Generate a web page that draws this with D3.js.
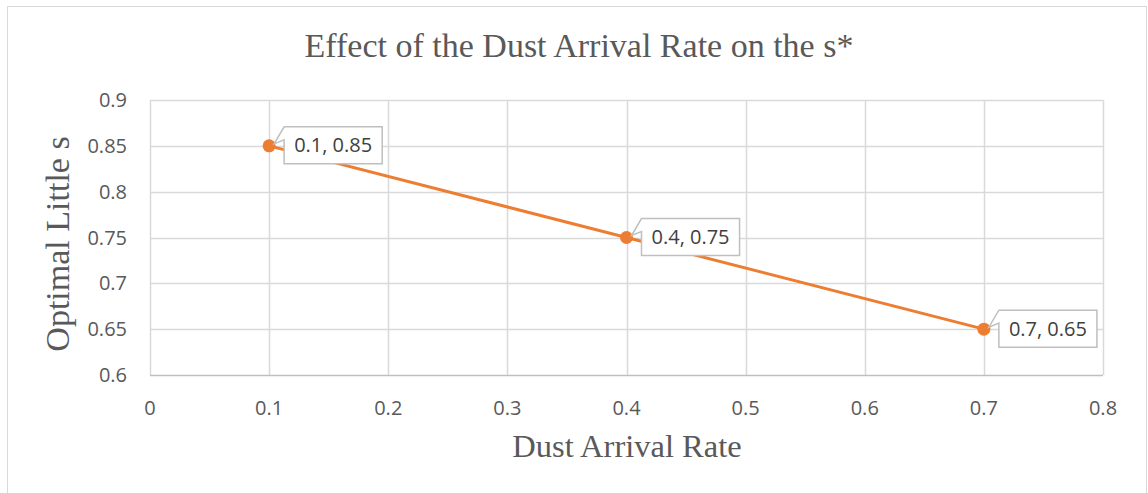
<!DOCTYPE html>
<html>
<head>
<meta charset="utf-8">
<script src="https://cdn.jsdelivr.net/npm/d3@7"></script>
<style>
  body { margin: 0; background: #fff; }
  svg { display: block; }
</style>
</head>
<body>
<div id="chart"></div>
<script>
// data
const rates = [0.1, 0.4, 0.7];
const optimalS = [0.85, 0.75, 0.65];
const xTicks = [0, 0.1, 0.2, 0.3, 0.4, 0.5, 0.6, 0.7, 0.8];
const yTicks = [0.6, 0.65, 0.7, 0.75, 0.8, 0.85, 0.9];

const W = 1148, H = 493;
const margin = { top: 100, right: 45, bottom: 118, left: 150 };

const svg = d3.select("#chart").append("svg")
  .attr("width", W)
  .attr("height", H);

// outer chart border
svg.append("rect")
  .attr("x", 7.5).attr("y", 6.5)
  .attr("width", 1139).attr("height", 500)
  .attr("fill", "none")
  .attr("stroke", "#d9d9d9");

const x = d3.scaleLinear().domain([0, 0.8]).range([margin.left, W - margin.right]);
const y = d3.scaleLinear().domain([0.6, 0.9]).range([H - margin.bottom, margin.top]);

// gridlines
svg.append("g").selectAll("line")
  .data(xTicks)
  .join("line")
  .attr("x1", d => Math.round(x(d)) + 0.5).attr("x2", d => Math.round(x(d)) + 0.5)
  .attr("y1", y(0.9)).attr("y2", y(0.6))
  .attr("stroke", "#d9d9d9").attr("stroke-width", 1.5);

svg.append("g").selectAll("line")
  .data(yTicks)
  .join("line")
  .attr("x1", x(0)).attr("x2", x(0.8))
  .attr("y1", d => Math.round(y(d)) + 0.5).attr("y2", d => Math.round(y(d)) + 0.5)
  .attr("stroke", d => d === 0.6 ? "#bfbfbf" : "#d9d9d9")
  .attr("stroke-width", 1.5);

// tick labels
const tickFont = "'Open Sans', 'Noto Sans', sans-serif";
svg.append("g").selectAll("text")
  .data(yTicks)
  .join("text")
  .attr("x", x(0) - 23)
  .attr("y", d => y(d))
  .attr("dy", "0.35em")
  .attr("text-anchor", "end")
  .attr("font-family", tickFont)
  .attr("font-size", 20)
  .attr("fill", "#595959")
  .text(d => d);

svg.append("g").selectAll("text")
  .data(xTicks)
  .join("text")
  .attr("x", d => x(d))
  .attr("y", y(0.6) + 33)
  .attr("dy", "0.35em")
  .attr("text-anchor", "middle")
  .attr("font-family", tickFont)
  .attr("font-size", 20)
  .attr("fill", "#595959")
  .text(d => d);

// series line + markers
const pts = rates.map((r, i) => ({ x: r, y: optimalS[i] }));

svg.append("path")
  .datum(pts)
  .attr("fill", "none")
  .attr("stroke", "#ed7d31")
  .attr("stroke-width", 3)
  .attr("stroke-linejoin", "round")
  .attr("d", d3.line().x(d => x(d.x)).y(d => y(d.y)));

svg.append("g").selectAll("circle")
  .data(pts)
  .join("circle")
  .attr("cx", d => x(d.x))
  .attr("cy", d => y(d.y))
  .attr("r", 6.5)
  .attr("fill", "#ed7d31");

// data callouts
const callout = svg.append("g").selectAll("g")
  .data(pts)
  .join("g")
  .attr("transform", d => `translate(${x(d.x)},${y(d.y)})`);

callout.each(function (d) {
  const g = d3.select(this);
  const txt = g.append("text")
    .attr("font-family", tickFont)
    .attr("font-size", 20)
    .attr("fill", "#404040")
    .text(`${d.x}, ${d.y}`);
  const tw = txt.node().getComputedTextLength();
  const bx = 15, by = -19, bw = tw + 20, bh = 37;
  txt.attr("x", bx + 10).attr("y", by + bh / 2).attr("dy", "0.35em");
  // box with a small pointer towards the marker
  const path = `M${bx},${by} L${bx + bw},${by} L${bx + bw},${by + bh} L${bx},${by + bh}
    L${bx},${by + 13} L${5},${-2} L${bx},${by} Z`;
  g.insert("path", "text")
    .attr("d", path)
    .attr("fill", "#fff")
    .attr("stroke", "#bfbfbf")
    .attr("stroke-width", 1.5);
});

// titles
const serif = "'Liberation Serif', 'DejaVu Serif', serif";
svg.append("text")
  .attr("x", 579).attr("y", 57)
  .attr("text-anchor", "middle")
  .attr("font-family", serif)
  .attr("font-size", 34)
  .attr("fill", "#595959")
  .text("Effect of the Dust Arrival Rate on the s*");

svg.append("text")
  .attr("x", 627).attr("y", 457)
  .attr("text-anchor", "middle")
  .attr("font-family", serif)
  .attr("font-size", 32.5)
  .attr("fill", "#595959")
  .text("Dust Arrival Rate");

svg.append("text")
  .attr("transform", `translate(69,244) rotate(-90)`)
  .attr("text-anchor", "middle")
  .attr("font-family", serif)
  .attr("font-size", 34)
  .attr("fill", "#595959")
  .text("Optimal Little s");
</script>
</body>
</html>
